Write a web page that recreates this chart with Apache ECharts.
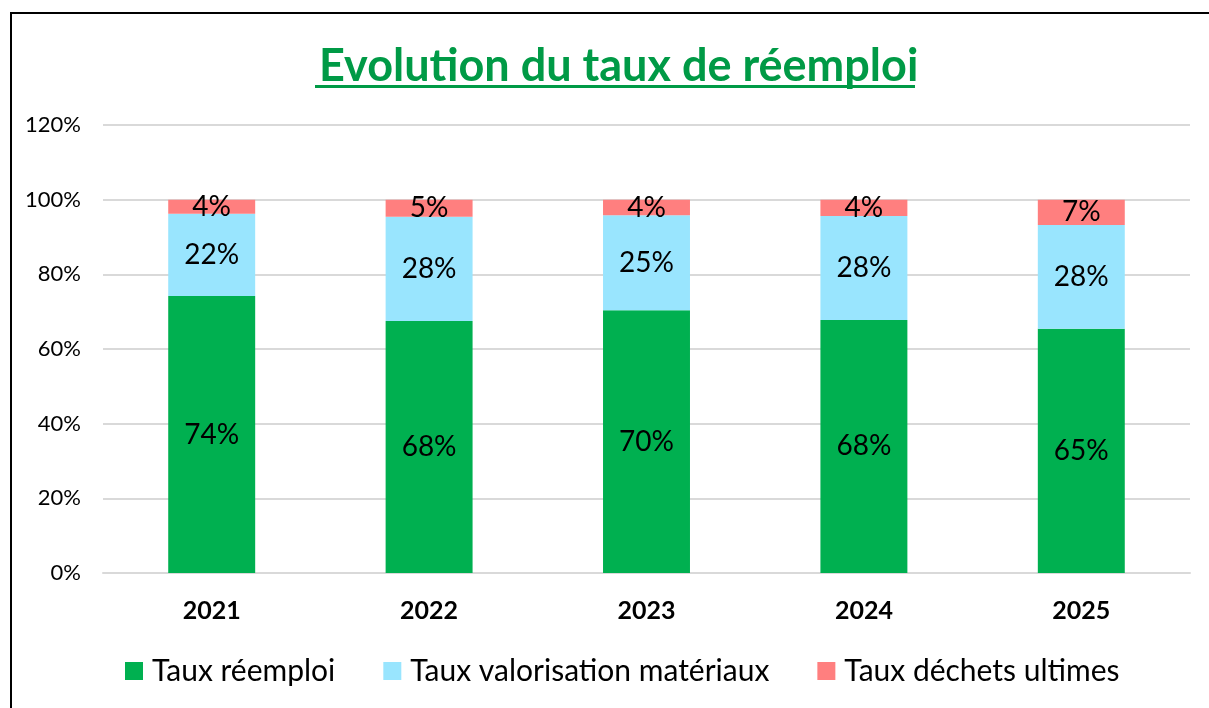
<!DOCTYPE html>
<html>
<head>
<meta charset="utf-8">
<script src="https://cdn.jsdelivr.net/npm/echarts@6/dist/echarts.min.js"></script>
<style>
  html, body { margin: 0; padding: 0; background: #fff; }
  #chart { width: 1209px; height: 708px; }
</style>
</head>
<body>
<div id="chart"></div>
<script>
// data
const years = ["2021", "2022", "2023", "2024", "2025"];
const reemploi = [74.2, 67.5, 70.4, 67.8, 65.4];
const valorisation = [22.0, 27.9, 25.4, 27.8, 27.8];
const dechets = [3.8, 4.6, 4.2, 4.4, 6.8];
const seriesNames = ["Taux réemploi", "Taux valorisation matériaux", "Taux déchets ultimes"];
const colors = ["#00B050", "#99E5FE", "#FF7F7F"];

const font = "Lato, 'Open Sans', sans-serif";

const chart = echarts.init(document.getElementById("chart"));

function barSeries(name, values, color) {
    return {
        name: name,
        type: "bar",
        stack: "total",
        barWidth: "40%",
        data: values,
        itemStyle: { color: color },
        label: {
            show: true,
            position: "inside",
            color: "#000",
            fontSize: 28,
            fontFamily: font,
            formatter: (p) => Math.round(p.value) + "%",
        },
    };
}

chart.setOption({
    animation: false,
    title: {
        text: "Evolution du taux de réemploi",
        left: 314,
        top: 39,
        textStyle: {
            color: "#009A46",
            fontSize: 45,
            fontWeight: "bold",
            fontFamily: font,
        },
    },
    graphic: [
        // outer frame
        { type: "rect", shape: { x: 11, y: 13, width: 1220, height: 720 },
          style: { fill: null, stroke: "#000", lineWidth: 2 } },
        // title underline
        { type: "rect", shape: { x: 315, y: 85, width: 600, height: 3 },
          style: { fill: "#009A46" } },
    ],
    legend: {
        bottom: 17,
        left: 120,
        itemWidth: 18,
        itemHeight: 18,
        itemGap: 48,
        icon: "rect",
        textStyle: { fontSize: 30, fontFamily: font, color: "#000", padding: [0, 0, 0, 4] },
        data: seriesNames,
    },
    grid: { left: 103, right: 19, top: 125, bottom: 135 },
    xAxis: {
        type: "category",
        data: years,
        axisLine: { lineStyle: { color: "#d9d9d9", width: 2 } },
        axisTick: { show: false },
        axisLabel: { fontSize: 25, fontWeight: "bold", fontFamily: font, color: "#000", margin: 25 },
    },
    yAxis: {
        type: "value",
        min: 0,
        max: 120,
        interval: 20,
        axisLine: { show: false },
        axisTick: { show: false },
        splitLine: { lineStyle: { color: "#d9d9d9", width: 2 } },
        axisLabel: { fontSize: 22, fontFamily: font, color: "#000", margin: 22, formatter: "{value}%" },
    },
    series: [
        barSeries(seriesNames[0], reemploi, colors[0]),
        barSeries(seriesNames[1], valorisation, colors[1]),
        barSeries(seriesNames[2], dechets, colors[2]),
    ],
});
</script>
</body>
</html>
